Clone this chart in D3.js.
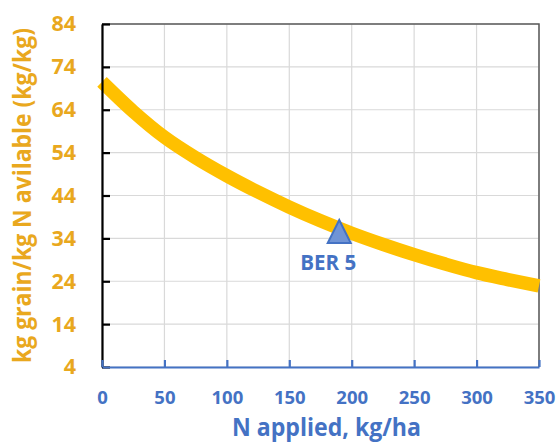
<!DOCTYPE html>
<html><head><meta charset="utf-8">
<script src="https://cdn.jsdelivr.net/npm/d3@7"></script>
<style>body{margin:0;background:#fff}svg{display:block}text{font-family:"Open Sans",sans-serif;font-weight:bold}</style>
</head><body><div id="chart"></div>
<script>
const nApplied = [0,25,50,75,100,125,150,175,200,225,250,275,300,325,350];
const grainPerN = [70.5,63.6,57.6,52.8,48.6,44.8,41.3,38.1,35.2,32.6,30.2,28.0,26.0,24.4,22.9];
const markerLabels = ["BER 5"];
const markerX = [190];
const markerY = [35.6];
const xTicks = [0,50,100,150,200,250,300,350];
const yTicks = [4,14,24,34,44,54,64,74,84];
const xTitle = "N applied, kg/ha";
const yTitle = "kg grain/kg N avilable (kg/kg)";

const W=558,H=443, m={l:102,r:19,t:24,b:76};
const svg=d3.select("#chart").append("svg").attr("width",W).attr("height",H);
const x=d3.scaleLinear().domain([0,350]).range([m.l,W-m.r]);
const y=d3.scaleLinear().domain([4,84]).range([H-m.b,m.t]);
const gold="#FFC000", tgold="#E9A81E", blue="#4472C4";

// grid
svg.append("g").selectAll("line").data(xTicks).join("line")
  .attr("x1",d=>x(d)).attr("x2",d=>x(d)).attr("y1",y(4)).attr("y2",y(84))
  .attr("stroke","#d9d9d9").attr("stroke-width",1.2);
svg.append("g").selectAll("line").data(yTicks).join("line")
  .attr("y1",d=>y(d)).attr("y2",d=>y(d)).attr("x1",x(0)).attr("x2",x(350))
  .attr("stroke","#d9d9d9").attr("stroke-width",1.2);
// top/right border
svg.append("path").attr("d",`M${x(0)},${y(84)}H${x(350)}V${y(4)}`)
  .attr("fill","none").attr("stroke","#595959").attr("stroke-width",1.5);

// curve
const line=d3.line().x((d,i)=>x(nApplied[i])).y(d=>y(d)).curve(d3.curveMonotoneX);
svg.append("path").attr("d",line(grainPerN)).attr("fill","none")
  .attr("stroke",gold).attr("stroke-width",13.5).attr("stroke-linecap","butt");

// axes
const yAxis=d3.axisLeft(y).tickValues(yTicks).tickSize(-8).tickPadding(26).tickSizeOuter(0);
const gy=svg.append("g").attr("transform",`translate(${x(0)},0)`).call(yAxis);
gy.select(".domain").attr("stroke","#000").attr("stroke-width",2.2);
gy.selectAll(".tick line").attr("stroke","#000").attr("stroke-width",2.2);
gy.selectAll(".tick text").attr("fill",tgold).attr("font-size",21.5).attr("font-family","Open Sans").attr("font-weight","bold");

const xAxis=d3.axisBottom(x).tickValues(xTicks).tickSize(-7).tickPadding(24).tickSizeOuter(0);
const gx=svg.append("g").attr("transform",`translate(0,${y(4)})`).call(xAxis);
gx.select(".domain").attr("stroke",blue).attr("stroke-width",2.2);
gx.selectAll(".tick line").attr("stroke",blue).attr("stroke-width",2.2);
gx.selectAll(".tick text").attr("fill",blue).attr("font-size",18.5).attr("font-family","Open Sans").attr("font-weight","bold");

// marker
const tri=d3.symbol().type({draw(ctx,size){const w=11.5,h=11.5;ctx.moveTo(0,-h);ctx.lineTo(w,h);ctx.lineTo(-w,h);ctx.closePath();}});
svg.append("g").selectAll("path").data(markerX).join("path")
  .attr("d",tri).attr("transform",(d,i)=>`translate(${x(d)},${y(markerY[i])})`)
  .attr("fill","#7094D6").attr("stroke",blue).attr("stroke-width",2);
svg.append("g").selectAll("text").data(markerLabels).join("text")
  .attr("x",(d,i)=>x(markerX[i])-11).attr("y",(d,i)=>y(markerY[i])+38.5)
  .attr("text-anchor","middle").attr("fill",blue).attr("font-size",21)
  .attr("textLength",56).attr("lengthAdjust","spacingAndGlyphs").text(d=>d);

// titles
svg.append("text").attr("x",326.5).attr("y",436).attr("text-anchor","middle")
  .attr("fill",blue).attr("font-size",25)
  .attr("textLength",189).attr("lengthAdjust","spacingAndGlyphs").text(xTitle);
svg.append("text").attr("transform",`translate(31,${(y(4)+y(84))/2}) rotate(-90)`)
  .attr("text-anchor","middle").attr("fill",tgold).attr("font-size",24.5)
  .attr("textLength",335).attr("lengthAdjust","spacingAndGlyphs").text(yTitle);
</script></body></html>
